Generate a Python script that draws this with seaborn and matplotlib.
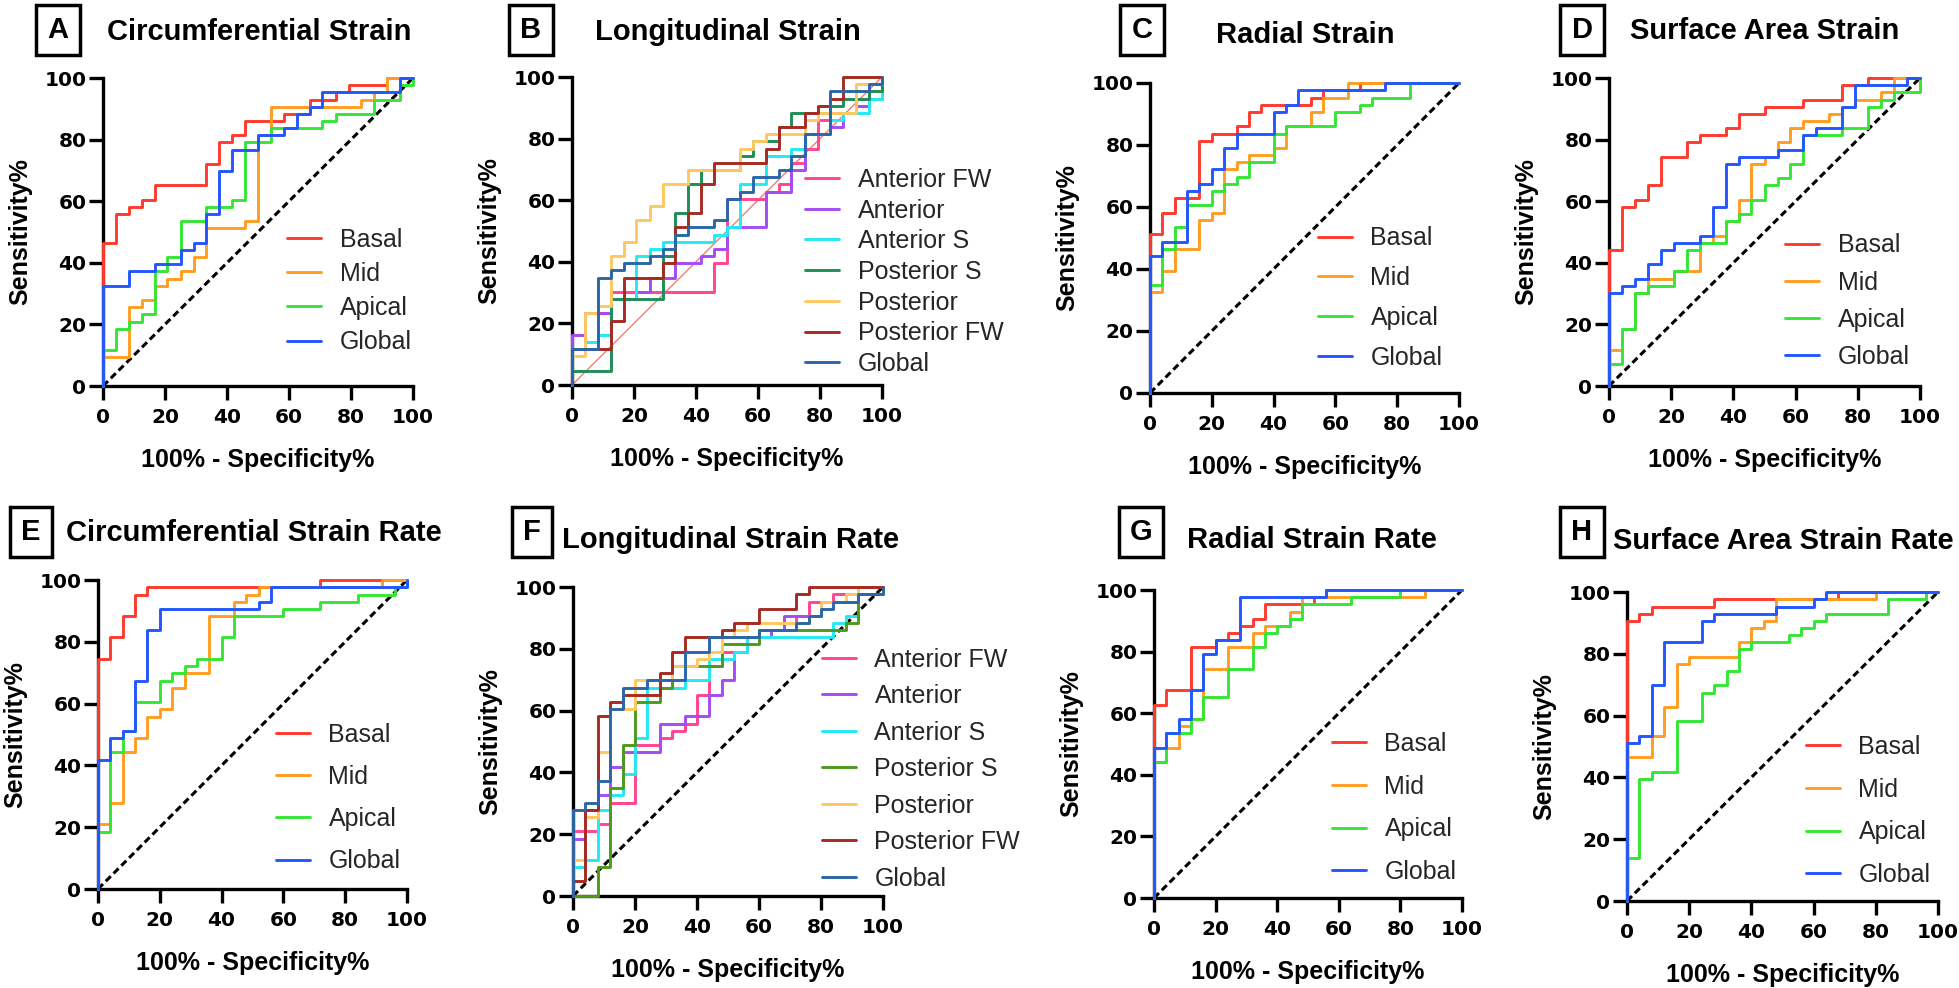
import matplotlib
matplotlib.use("Agg")
import matplotlib.pyplot as plt
import seaborn as sns

# ---- data: (100% - specificity, sensitivity) step points for every ROC curve ----

circ_strain = {
    "Basal": ([0, 0, 4.2, 8.3, 12.5, 16.7, 33.3, 37.5, 41.7, 45.8, 58.3, 66.7, 75, 79.2, 91.7, 100],
              [0, 46.5, 55.8, 58.1, 60.5, 65.1, 72.1, 79.1, 81.4, 86.0, 88.4, 93.0, 95.3, 97.7, 100, 100]),
    "Mid": ([0, 0, 8.3, 12.5, 16.7, 20.8, 25, 29.2, 33.3, 45.8, 50, 54.2, 83.3, 87.5, 91.7, 100],
            [0, 9.3, 25.6, 27.9, 32.6, 34.9, 37.2, 41.9, 51.2, 53.5, 81.4, 90.7, 93.0, 95.3, 100, 100]),
    "Apical": ([0, 0, 4.2, 8.3, 12.5, 16.7, 20.8, 25, 33.3, 41.7, 45.8, 54.2, 70.8, 75, 87.5, 95.8, 100],
               [0, 11.6, 18.6, 20.9, 23.3, 37.2, 41.9, 53.5, 58.1, 60.5, 79.1, 83.7, 86.0, 88.4, 93.0, 97.7, 100]),
    "Global": ([0, 0, 8.3, 16.7, 25, 29.2, 33.3, 37.5, 41.7, 50, 58.3, 62.5, 66.7, 70.8, 95.8, 100],
               [0, 32.6, 37.2, 39.5, 44.2, 46.5, 55.8, 69.8, 76.7, 81.4, 83.7, 88.4, 90.7, 95.3, 100, 100]),
}

long_strain = {
    "Anterior FW": ([0, 0, 4.2, 12.5, 45.8, 50, 62.5, 66.7, 70.8, 75, 79.2, 83.3, 91.7, 100],
                    [0, 11.6, 23.3, 30.2, 39.5, 60.5, 62.8, 65.1, 72.1, 76.7, 86.0, 88.4, 93.0, 100]),
    "Anterior": ([0, 0, 4.2, 12.5, 20.8, 25, 33.3, 41.7, 45.8, 50, 62.5, 70.8, 75, 83.3, 87.5, 91.7, 95.8, 100],
                 [0, 16.3, 23.3, 27.9, 30.2, 34.9, 39.5, 41.9, 44.2, 51.2, 62.8, 69.8, 81.4, 83.7, 88.4, 90.7, 97.7, 100]),
    "Anterior S": ([0, 0, 4.2, 8.3, 12.5, 20.8, 25, 29.2, 45.8, 50, 54.2, 62.5, 70.8, 75, 83.3, 87.5, 95.8, 100],
                   [0, 11.6, 14.0, 16.3, 27.9, 41.9, 44.2, 46.5, 48.8, 51.2, 65.1, 74.4, 76.7, 81.4, 86.0, 88.4, 93.0, 100]),
    "Posterior S": ([0, 0, 12.5, 29.2, 33.3, 37.5, 41.7, 54.2, 58.3, 66.7, 70.8, 83.3, 87.5, 95.8, 100],
                    [0, 4.7, 27.9, 41.9, 55.8, 65.1, 69.8, 74.4, 79.1, 83.7, 88.4, 90.7, 93.0, 95.3, 100]),
    "Posterior": ([0, 0, 4.2, 8.3, 12.5, 16.7, 20.8, 25, 29.2, 37.5, 54.2, 58.3, 62.5, 75, 79.2, 91.7, 100],
                  [0, 9.3, 23.3, 25.6, 41.9, 46.5, 53.5, 58.1, 65.1, 69.8, 76.7, 79.1, 81.4, 86.0, 88.4, 97.7, 100]),
    "Posterior FW": ([0, 0, 12.5, 16.7, 29.2, 33.3, 37.5, 41.7, 45.8, 62.5, 66.7, 75, 79.2, 83.3, 87.5, 100],
                     [0, 11.6, 20.9, 34.9, 39.5, 51.2, 55.8, 65.1, 72.1, 76.7, 83.7, 88.4, 90.7, 93.0, 100, 100]),
    "Global": ([0, 0, 8.3, 12.5, 16.7, 25, 29.2, 33.3, 37.5, 45.8, 50, 54.2, 58.3, 66.7, 70.8, 75, 83.3, 95.8, 100],
               [0, 11.6, 34.9, 37.2, 39.5, 41.9, 44.2, 48.8, 51.2, 53.5, 60.5, 62.8, 67.4, 69.8, 74.4, 81.4, 95.3, 97.7, 100]),
}

radial_strain = {
    "Basal": ([0, 0, 4, 8, 16, 20, 28, 32, 36, 52, 56, 68, 100],
              [0, 51.2, 58.1, 62.8, 81.4, 83.7, 86.0, 90.7, 93.0, 95.3, 97.7, 100, 100]),
    "Mid": ([0, 0, 4, 8, 16, 20, 24, 28, 32, 40, 44, 52, 56, 64, 100],
            [0, 32.6, 39.5, 46.5, 55.8, 58.1, 72.1, 74.4, 76.7, 79.1, 86.0, 90.7, 95.3, 100, 100]),
    "Apical": ([0, 0, 4, 8, 12, 20, 24, 28, 32, 40, 44, 60, 68, 72, 84, 100],
               [0, 34.9, 46.5, 53.5, 60.5, 65.1, 67.4, 69.8, 74.4, 83.7, 86.0, 90.7, 93.0, 95.3, 100, 100]),
    "Global": ([0, 0, 4, 12, 16, 20, 24, 28, 40, 44, 48, 76, 100],
               [0, 44.2, 48.8, 65.1, 67.4, 72.1, 79.1, 83.7, 90.7, 93.0, 97.7, 100, 100]),
}

area_strain = {
    "Basal": ([0, 0, 4.2, 8.3, 12.5, 16.7, 25, 29.2, 37.5, 41.7, 50, 62.5, 75, 83.3, 100],
              [0, 44.2, 58.1, 60.5, 65.1, 74.4, 79.1, 81.4, 83.7, 88.4, 90.7, 93.0, 97.7, 100, 100]),
    "Mid": ([0, 0, 4.2, 8.3, 12.5, 20.8, 29.2, 33.3, 37.5, 41.7, 45.8, 50, 54.2, 58.3, 62.5, 70.8, 75, 79.2, 87.5, 91.7, 100],
            [0, 11.6, 18.6, 30.2, 34.9, 37.2, 46.5, 48.8, 53.5, 60.5, 72.1, 74.4, 79.1, 83.7, 86.0, 88.4, 90.7, 93.0, 95.3, 100, 100]),
    "Apical": ([0, 0, 4.2, 8.3, 12.5, 20.8, 25, 29.2, 37.5, 41.7, 45.8, 50, 54.2, 58.3, 62.5, 75, 83.3, 87.5, 91.7, 100],
               [0, 7.0, 18.6, 30.2, 32.6, 37.2, 44.2, 46.5, 53.5, 55.8, 60.5, 65.1, 67.4, 72.1, 81.4, 83.7, 90.7, 93.0, 95.3, 100]),
    "Global": ([0, 0, 4.2, 8.3, 12.5, 16.7, 20.8, 29.2, 33.3, 37.5, 41.7, 54.2, 62.5, 66.7, 75, 79.2, 95.8, 100],
               [0, 30.2, 32.6, 34.9, 39.5, 44.2, 46.5, 48.8, 58.1, 72.1, 74.4, 76.7, 81.4, 83.7, 90.7, 97.7, 100, 100]),
}

circ_rate = {
    "Basal": ([0, 0, 4, 8, 12, 16, 72, 100],
              [0, 74.4, 81.4, 88.4, 95.3, 97.7, 100, 100]),
    "Mid": ([0, 0, 4, 8, 12, 16, 20, 24, 28, 36, 44, 48, 52, 92, 100],
            [0, 20.9, 27.9, 44.2, 48.8, 55.8, 58.1, 65.1, 69.8, 88.4, 93.0, 95.3, 97.7, 100, 100]),
    "Apical": ([0, 0, 4, 8, 12, 20, 24, 28, 32, 40, 44, 60, 72, 84, 96, 100],
               [0, 18.6, 44.2, 51.2, 60.5, 67.4, 69.8, 72.1, 74.4, 81.4, 88.4, 90.7, 93.0, 95.3, 97.7, 100]),
    "Global": ([0, 0, 4, 8, 12, 16, 20, 52, 56, 100],
               [0, 41.9, 48.8, 51.2, 67.4, 83.7, 90.7, 93.0, 97.7, 100]),
}

long_rate = {
    "Anterior FW": ([0, 0, 8, 12, 20, 28, 32, 36, 40, 44, 48, 56, 64, 72, 76, 84, 100],
                    [0, 20.9, 23.3, 30.2, 48.8, 51.2, 53.5, 55.8, 65.1, 74.4, 79.1, 83.7, 86.0, 90.7, 95.3, 97.7, 100]),
    "Anterior": ([0, 0, 4, 8, 12, 16, 28, 36, 44, 48, 52, 56, 64, 68, 80, 92, 100],
                 [0, 18.6, 27.9, 32.6, 41.9, 46.5, 55.8, 58.1, 65.1, 69.8, 79.1, 83.7, 86.0, 90.7, 95.3, 100, 100]),
    "Anterior S": ([0, 0, 4, 8, 12, 16, 20, 24, 36, 44, 52, 56, 84, 88, 92, 100],
                   [0, 9.3, 11.6, 27.9, 32.6, 39.5, 51.2, 67.4, 69.8, 76.7, 79.1, 83.7, 88.4, 90.7, 100, 100]),
    "Posterior S": ([0, 0, 8, 12, 16, 20, 28, 32, 48, 60, 88, 92, 100],
                    [0, 0, 9.3, 34.9, 48.8, 62.8, 67.4, 74.4, 81.4, 86.0, 88.4, 100, 100]),
    "Posterior": ([0, 0, 4, 8, 12, 20, 32, 40, 44, 48, 52, 56, 76, 80, 88, 92, 100],
                  [0, 11.6, 25.6, 46.5, 60.5, 69.8, 74.4, 76.7, 79.1, 83.7, 86.0, 88.4, 90.7, 95.3, 97.7, 100, 100]),
    "Posterior FW": ([0, 0, 4, 8, 12, 16, 28, 32, 36, 48, 52, 60, 72, 76, 100],
                     [0, 4.7, 27.9, 58.1, 62.8, 65.1, 72.1, 79.1, 83.7, 86.0, 88.4, 93.0, 97.7, 100, 100]),
    "Global": ([0, 0, 4, 8, 12, 16, 24, 36, 44, 60, 72, 76, 80, 84, 92, 100],
               [0, 27.9, 30.2, 37.2, 60.5, 67.4, 69.8, 79.1, 83.7, 86.0, 88.4, 90.7, 93.0, 95.3, 97.7, 100]),
}

radial_rate = {
    "Basal": ([0, 0, 4, 12, 20, 24, 28, 32, 36, 52, 56, 100],
              [0, 62.8, 67.4, 81.4, 83.7, 86.0, 88.4, 90.7, 95.3, 97.7, 100, 100]),
    "Mid": ([0, 0, 4, 8, 12, 16, 24, 32, 36, 44, 48, 88, 100],
            [0, 44.2, 48.8, 55.8, 58.1, 74.4, 81.4, 86.0, 88.4, 93.0, 97.7, 100, 100]),
    "Apical": ([0, 0, 4, 12, 16, 24, 32, 36, 40, 44, 48, 64, 80, 100],
               [0, 44.2, 53.5, 58.1, 65.1, 74.4, 81.4, 86.0, 88.4, 90.7, 95.3, 97.7, 100, 100]),
    "Global": ([0, 0, 4, 8, 12, 16, 20, 28, 56, 100],
               [0, 48.8, 53.5, 58.1, 67.4, 79.1, 83.7, 97.7, 100, 100]),
}

area_rate = {
    "Basal": ([0, 0, 4, 8, 28, 68, 100],
              [0, 90.7, 93.0, 95.3, 97.7, 100, 100]),
    "Mid": ([0, 0, 8, 12, 16, 20, 36, 40, 44, 48, 80, 100],
            [0, 46.5, 53.5, 62.8, 76.7, 79.1, 83.7, 88.4, 90.7, 97.7, 100, 100]),
    "Apical": ([0, 0, 4, 8, 16, 24, 28, 32, 36, 40, 52, 56, 60, 64, 84, 96, 100],
               [0, 14.0, 39.5, 41.9, 58.1, 67.4, 69.8, 74.4, 81.4, 83.7, 86.0, 88.4, 90.7, 93.0, 97.7, 100, 100]),
    "Global": ([0, 0, 4, 8, 12, 24, 28, 48, 60, 64, 100],
               [0, 51.2, 53.5, 69.8, 83.7, 90.7, 93.0, 95.3, 97.7, 100, 100]),
}

tick_values = [0, 20, 40, 60, 80, 100]

# colours
seg_colors = {"Basal": "#FF3A2E", "Mid": "#FF9D22", "Apical": "#35E635", "Global": "#2356FF"}
wall_colors_b = {"Anterior FW": "#FF4590", "Anterior": "#A64BF4", "Anterior S": "#22EAF4",
                 "Posterior S": "#1F8E57", "Posterior": "#FFC860", "Posterior FW": "#A52A22",
                 "Global": "#2A66A8"}
wall_colors_f = dict(wall_colors_b, **{"Posterior S": "#4E9A1C"})

# layout in pixels: axes box (x0, x1, ytop, ybottom), letter box centre, title baseline start,
# legend (handle left, centre y), legend label spacing
panels = [
    ("A", "Circumferential Strain", circ_strain, seg_colors, (103, 413, 78, 386), (58, 30), (107, 40), (287, 291), 0.41, "dash"),
    ("B", "Longitudinal Strain", long_strain, wall_colors_b, (572, 882, 77, 385), (531, 30), (595, 40), (805, 272), 0.27, "thin"),
    ("C", "Radial Strain", radial_strain, seg_colors, (1150, 1459, 83, 393), (1142, 30), (1216, 43), (1318, 298), 0.63, "dash"),
    ("D", "Surface Area Strain", area_strain, seg_colors, (1609, 1920, 78, 386), (1582, 30), (1630, 39), (1785, 301), 0.52, "dash"),
    ("E", "Circumferential Strain Rate", circ_rate, seg_colors, (98, 407, 580, 889), (31, 532), (66, 541), (276, 798), 0.73, "dash"),
    ("F", "Longitudinal Strain Rate", long_rate, wall_colors_f, (573, 883, 587, 896), (532, 532), (562, 548), (822, 769), 0.50, "dash"),
    ("G", "Radial Strain Rate", radial_rate, seg_colors, (1154, 1462, 590, 898), (1141, 532), (1187, 548), (1332, 808), 0.75, "dash"),
    ("H", "Surface Area Strain Rate", area_rate, seg_colors, (1627, 1938, 592, 901), (1582, 532), (1613, 549), (1806, 811), 0.75, "dash"),
]

W, H = 1959, 988

sns.set_theme(style="ticks")
plt.rcParams["font.family"] = ["Liberation Sans", "DejaVu Sans"]

fig = plt.figure(figsize=(W / 100, H / 100), dpi=100)
fig.patch.set_facecolor("white")

for letter, title, curves, colors, box, lbox, tpos, lpos, lspace, diag in panels:
    x0, x1, yt, yb = box
    ax = fig.add_axes([x0 / W, 1 - yb / H, (x1 - x0) / W, (yb - yt) / H])
    ax.set_facecolor("white")

    # chance line
    if diag == "thin":
        ax.plot([0, 100], [0, 100], color="#F08070", lw=1.0, zorder=1)
    else:
        ax.plot([0, 100], [0, 100], color="black", lw=2.2, linestyle=(0, (2.3, 1.3)), zorder=1)

    for name, (fpr, tpr) in curves.items():
        sns.lineplot(x=fpr, y=tpr, ax=ax, color=colors[name], lw=2.1, label=name,
                     drawstyle="steps-post", estimator=None, sort=False, clip_on=False, zorder=3)

    ax.set_xlim(0, 100)
    ax.set_ylim(0, 100)
    ax.set_xticks(tick_values)
    ax.set_yticks(tick_values)
    sns.despine(ax=ax)
    for s in ("left", "bottom"):
        ax.spines[s].set_linewidth(2.4)
        ax.spines[s].set_color("black")
    ax.tick_params(axis="both", length=10, width=2.4, color="black", direction="out",
                   labelsize=14.5, labelcolor="black", labelfontfamily="DejaVu Sans")
    ax.tick_params(axis="x", pad=6)
    ax.tick_params(axis="y", pad=2)
    for lab in ax.get_xticklabels() + ax.get_yticklabels():
        lab.set_fontweight("bold")

    ax.set_xlabel("100% - Specificity%", fontsize=18, fontweight="bold", color="black", labelpad=15)
    ax.set_ylabel("Sensitivity%", fontsize=18, fontweight="bold", color="black", labelpad=9)

    ax.legend(loc="center left", bbox_to_anchor=(lpos[0] / W, 1 - lpos[1] / H),
              bbox_transform=fig.transFigure, frameon=False, fontsize=18,
              handlelength=1.35, handletextpad=0.75, labelspacing=lspace,
              borderpad=0, borderaxespad=0)

    fig.text(lbox[0] / W, 1 - lbox[1] / H, letter, ha="center", va="center",
             fontsize=21, fontweight="bold", color="black",
             bbox=dict(boxstyle="square,pad=0.38", fc="white", ec="black", lw=2.5))
    fig.text(tpos[0] / W, 1 - tpos[1] / H, title, ha="left", va="baseline",
             fontsize=21, fontweight="bold", color="black")

fig.savefig("out.png", dpi=100, facecolor="white")
